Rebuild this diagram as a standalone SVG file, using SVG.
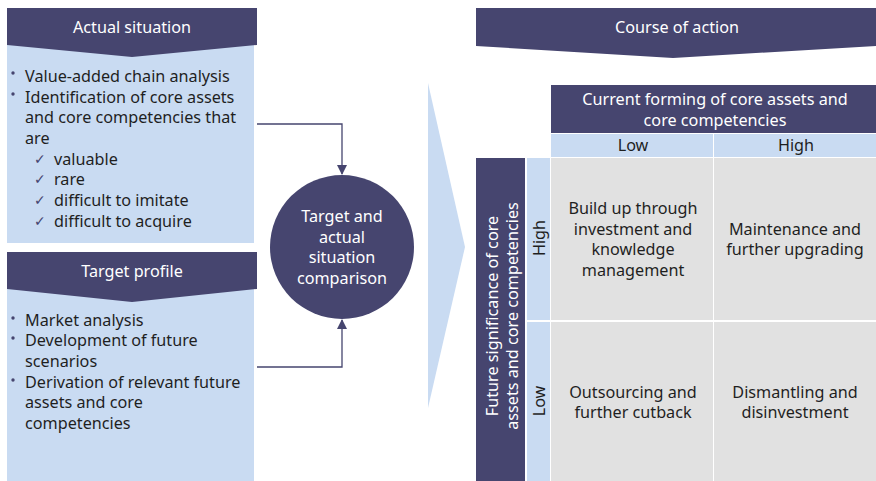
<svg xmlns="http://www.w3.org/2000/svg" width="876" height="481" viewBox="0 0 876 481">
<style>
.dark{fill:#46456f}
.light{fill:#c9dbf2}
.gray{fill:#e1e1e1}
text{font-family:"Noto Sans","Open Sans",sans-serif;font-size:16.2px}
.w{fill:#ffffff}
.t{fill:#1f1f1f}
.c{text-anchor:middle}
.chk{font-family:"DejaVu Sans",sans-serif;font-size:14px;fill:#46456f}
.conn{fill:none;stroke:#46456f;stroke-width:1.3}
</style>
<defs>
<marker id="ah" markerWidth="10" markerHeight="10" refX="9" refY="5" orient="auto" markerUnits="userSpaceOnUse">
<path d="M0,0 L10,5 L0,10 Z" fill="#46456f"/>
</marker>
</defs>

<g id="actual-situation">
<rect class="light" x="7" y="44" width="247" height="199"/>
<path class="dark" d="M7,8 H257 V45 L132,57 L7,45 Z"/>
<text class="w c" x="132" y="33">Actual situation</text>
<circle class="dark" cx="13" cy="73" r="1.7"/>
<circle class="dark" cx="13" cy="94" r="1.7"/>
<text class="t" x="25" y="82">Value-added chain analysis</text>
<text class="t" x="25" y="103">Identification of core assets</text>
<text class="t" x="25" y="123">and core competencies that</text>
<text class="t" x="25" y="144">are</text>
<text class="chk" x="34" y="164">✓</text>
<text class="chk" x="34" y="184">✓</text>
<text class="chk" x="34" y="205">✓</text>
<text class="chk" x="34" y="226">✓</text>
<text class="t" x="54" y="165">valuable</text>
<text class="t" x="54" y="185">rare</text>
<text class="t" x="54" y="206">difficult to imitate</text>
<text class="t" x="54" y="227">difficult to acquire</text>
</g>

<g id="target-profile">
<rect class="light" x="7" y="288" width="247" height="193"/>
<path class="dark" d="M7,252 H257 V289 L132,302 L7,289 Z"/>
<text class="w c" x="132" y="277">Target profile</text>
<circle class="dark" cx="13" cy="318" r="1.7"/>
<circle class="dark" cx="13" cy="338" r="1.7"/>
<circle class="dark" cx="13" cy="380" r="1.7"/>
<text class="t" x="25" y="326">Market analysis</text>
<text class="t" x="25" y="346">Development of future</text>
<text class="t" x="25" y="367">scenarios</text>
<text class="t" x="25" y="388">Derivation of relevant future</text>
<text class="t" x="25" y="408">assets and core</text>
<text class="t" x="25" y="429">competencies</text>
</g>

<g id="comparison">
<circle class="dark" cx="342" cy="247" r="72"/>
<text class="w c" x="342" y="222">Target and</text>
<text class="w c" x="342" y="243">actual</text>
<text class="w c" x="342" y="263">situation</text>
<text class="w c" x="342" y="284">comparison</text>
</g>

<g id="connectors">
<path class="conn" d="M257,124 H342 V174" marker-end="url(#ah)"/>
<path class="conn" d="M257,367 H342 V320" marker-end="url(#ah)"/>
</g>

<g id="big-arrow">
<path class="light" d="M428,83 L465,247 L428,408 Z"/>
</g>

<g id="course-of-action">
<path class="dark" d="M476,8 H876 V46 L673,58 L476,46 Z"/>
<text class="w c" x="677" y="33">Course of action</text>
</g>

<g id="matrix">
<rect class="dark" x="551" y="85" width="325" height="48"/>
<text class="w c" x="715" y="105">Current forming of core assets and</text>
<text class="w c" x="715" y="126">core competencies</text>
<rect class="light" x="551" y="134" width="162" height="23"/>
<rect class="light" x="714" y="134" width="162" height="23"/>
<text class="t c" x="633" y="151">Low</text>
<text class="t c" x="796" y="151">High</text>
<rect class="dark" x="476" y="158" width="49" height="323"/>
<text class="w c" transform="translate(498,316) rotate(-90)">Future significance of core</text>
<text class="w c" transform="translate(518,316) rotate(-90)">assets and core competencies</text>
<rect class="light" x="527" y="158" width="23" height="162"/>
<rect class="light" x="527" y="322" width="23" height="159"/>
<text class="t c" transform="translate(545,238) rotate(-90)">High</text>
<text class="t c" transform="translate(545,401) rotate(-90)">Low</text>
<rect class="gray" x="551" y="158" width="162" height="162"/>
<rect class="gray" x="714" y="158" width="162" height="162"/>
<rect class="gray" x="551" y="322" width="162" height="159"/>
<rect class="gray" x="714" y="322" width="162" height="159"/>
<text class="t c" x="633" y="214">Build up through</text>
<text class="t c" x="633" y="235">investment and</text>
<text class="t c" x="633" y="255">knowledge</text>
<text class="t c" x="633" y="276">management</text>
<text class="t c" x="795" y="235">Maintenance and</text>
<text class="t c" x="795" y="255">further upgrading</text>
<text class="t c" x="633" y="398">Outsourcing and</text>
<text class="t c" x="633" y="418">further cutback</text>
<text class="t c" x="795" y="398">Dismantling and</text>
<text class="t c" x="795" y="418">disinvestment</text>
</g>
</svg>
